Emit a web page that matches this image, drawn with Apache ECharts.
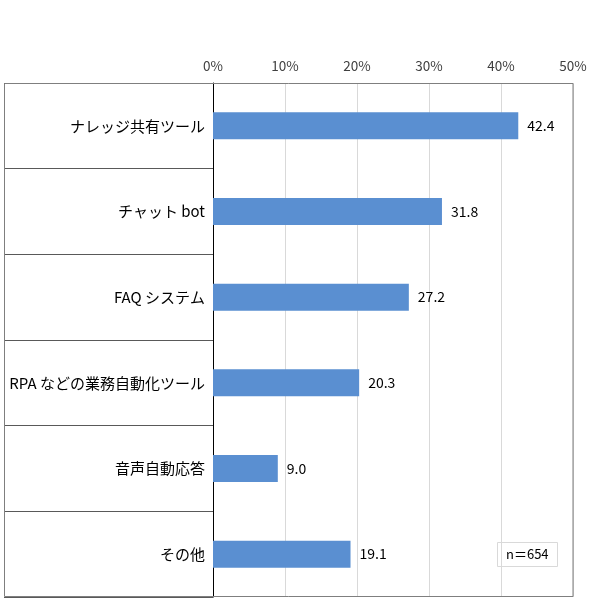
<!DOCTYPE html>
<html><head><meta charset="utf-8">
<script src="https://cdn.jsdelivr.net/npm/echarts@6/dist/echarts.min.js"></script>
<style>html,body{margin:0;padding:0;background:#fff}#c{width:590px;height:609px}</style>
</head><body><div id="c"></div>
<script>
const categories = ['ナレッジ共有ツール','チャット bot','FAQ システム','RPA などの業務自動化ツール','音声自動応答','その他'];
const values = [42.4, 31.8, 27.2, 20.3, 9.0, 19.1];
const tickMin = 0, tickMax = 50, tickStep = 10;
const noteText = 'n＝654';
const font = '"Noto Sans CJK JP", "Noto Sans", sans-serif';
const chart = echarts.init(document.getElementById('c'));
chart.setOption({
  animation: false,
  backgroundColor: '#fff',
  textStyle: {fontFamily: font},
  grid: {left: 213, right: 17, top: 83, bottom: 12, containLabel: false},
  graphic: [{
    type: 'rect', shape: {x: 4.5, y: 83.5, width: 568.5, height: 513}, z: 10, silent: true,
    style: {fill: 'none', stroke: '#7f7f7f', lineWidth: 1}
  }],
  title: {
    text: noteText, left: 497, top: 542,
    borderColor: '#d9d9d9', borderWidth: 1, padding: [6, 9, 6, 9],
    textStyle: {fontSize: 13, fontWeight: 'normal', color: '#000', fontFamily: font}
  },
  xAxis: {
    type: 'value', position: 'top', min: tickMin, max: tickMax, interval: tickStep,
    axisLine: {show: false}, axisTick: {show: false},
    axisLabel: {formatter: '{value}%', fontSize: 13.5, color: '#404040', margin: 10, fontFamily: font},
    splitLine: {lineStyle: {color: '#d9d9d9', width: 1}}
  },
  yAxis: {
    type: 'category', data: categories, inverse: true,
    axisLine: {lineStyle: {color: '#000', width: 1}},
    axisTick: {show: true, length: 209, lineStyle: {color: '#595959', width: 1}},
    axisLabel: {fontSize: 15, color: '#000', margin: 8, fontFamily: font}
  },
  series: [{
    type: 'bar', data: values, barWidth: 27,
    itemStyle: {color: '#5a8fd1'},
    label: {show: true, position: 'right', distance: 9, fontSize: 14, color: '#000',
      formatter: p => p.value.toFixed(1), fontFamily: font}
  }]
});
</script></body></html>
